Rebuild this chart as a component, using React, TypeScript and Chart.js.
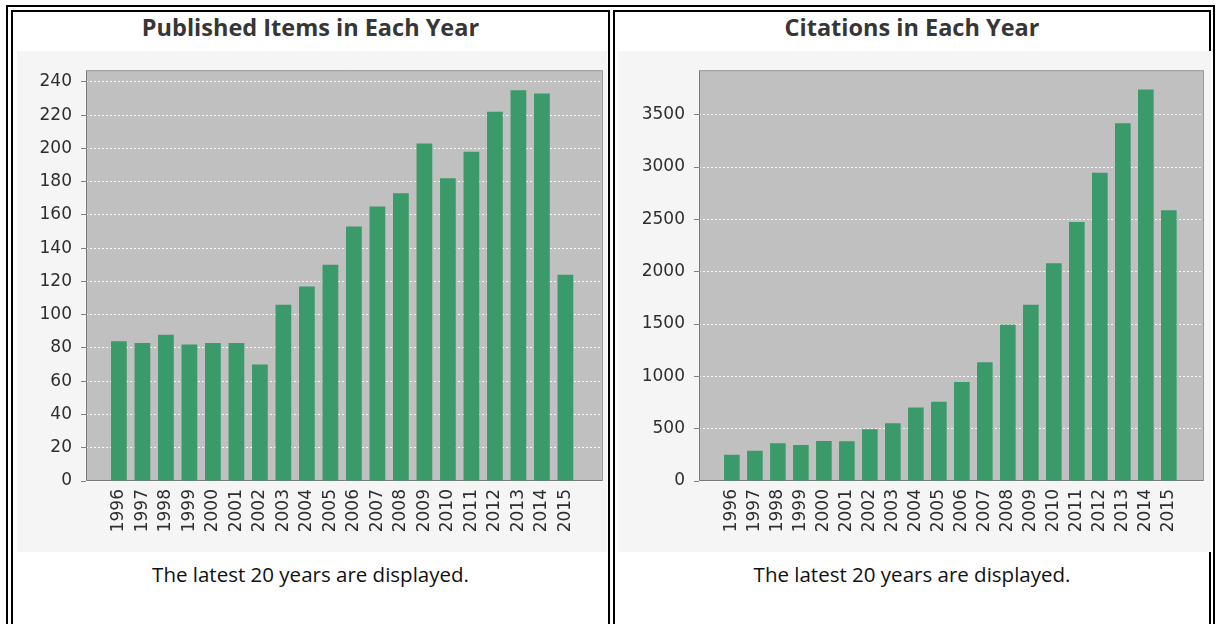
import React, { useEffect, useRef } from "react";
import { Chart, registerables } from "chart.js";

Chart.register(...registerables);

const YEARS = [1996, 1997, 1998, 1999, 2000, 2001, 2002, 2003, 2004, 2005, 2006, 2007, 2008, 2009, 2010, 2011, 2012, 2013, 2014, 2015];
const PUBLISHED = [84, 83, 88, 82, 83, 83, 70, 106, 117, 130, 153, 165, 173, 203, 182, 198, 222, 235, 233, 124];
const CITATIONS = [250, 288, 360, 345, 382, 380, 495, 551, 702, 758, 946, 1134, 1494, 1685, 2080, 2475, 2945, 3418, 3741, 2588];
const PUB_TICKS = [0, 20, 40, 60, 80, 100, 120, 140, 160, 180, 200, 220, 240];
const CIT_TICKS = [0, 500, 1000, 1500, 2000, 2500, 3000, 3500];

const PUB_TITLE = "Published Items in Each Year";
const CIT_TITLE = "Citations in Each Year";
const FOOTER = "The latest 20 years are displayed.";

const BAR_COLOR = "#3a9a6a";
const TICK_FONT = { family: "'DejaVu Sans', sans-serif", size: 17 };

const plotPlugin = {
  id: "plotPlugin",
  beforeDraw(chart: any) {
    const { ctx, chartArea: a } = chart;
    ctx.save();
    ctx.fillStyle = "#f5f5f5";
    ctx.fillRect(0, 0, chart.width, chart.height);
    ctx.fillStyle = "#c0c0c0";
    ctx.fillRect(a.left, a.top, a.right - a.left, a.bottom - a.top);
    ctx.restore();
  },
  beforeDatasetsDraw(chart: any) {
    const { ctx, chartArea: a } = chart;
    ctx.save();
    ctx.lineWidth = 1;
    ctx.strokeStyle = "#9a9a9a";
    ctx.beginPath();
    ctx.moveTo(a.left + 0.5, a.top + 0.5);
    ctx.lineTo(a.right - 0.5, a.top + 0.5);
    ctx.lineTo(a.right - 0.5, a.bottom - 0.5);
    ctx.stroke();
    ctx.strokeStyle = "#7a7a7a";
    ctx.beginPath();
    ctx.moveTo(a.left + 0.5, a.top + 0.5);
    ctx.lineTo(a.left + 0.5, a.bottom - 0.5);
    ctx.lineTo(a.right - 0.5, a.bottom - 0.5);
    ctx.stroke();
    ctx.restore();
  },
};

type Spec = {
  values: number[];
  ticks: number[];
  yMax: number;
  xMin: number;
  xMax: number;
  yAxisWidth: number;
  rightPad: number;
  barPct: number;
};

function BarChart({ spec, width, height }: { spec: Spec; width: number; height: number }) {
  const ref = useRef<HTMLCanvasElement | null>(null);
  useEffect(() => {
    if (!ref.current) return;
    const chart = new Chart(ref.current, {
      type: "bar",
      data: {
        datasets: [
          {
            data: YEARS.map((y, i) => ({ x: y, y: spec.values[i] })),
            backgroundColor: BAR_COLOR,
            borderWidth: 0,
            categoryPercentage: 1,
            barPercentage: spec.barPct,
          } as any,
        ],
      },
      options: {
        animation: false,
        responsive: false,
        devicePixelRatio: 1,
        layout: { padding: { top: 12, right: spec.rightPad, left: 0, bottom: 0 } },
        plugins: { legend: { display: false }, tooltip: { enabled: false }, title: { display: false } },
        scales: {
          x: {
            type: "linear",
            offset: false,
            min: spec.xMin,
            max: spec.xMax,
            grid: { display: false, drawTicks: false },
            border: { display: false },
            afterBuildTicks: (s: any) => {
              s.ticks = YEARS.map((v) => ({ value: v }));
            },
            afterFit: (s: any) => {
              s.height = 71;
            },
            ticks: {
              autoSkip: false,
              minRotation: 90,
              maxRotation: 90,
              padding: 8,
              color: "#2e2e2e",
              font: TICK_FONT,
              callback: (v: any) => String(v),
            },
          },
          y: {
            type: "linear",
            min: 0,
            max: spec.yMax,
            grid: {
              color: "rgba(255,255,255,0.9)",
              lineWidth: 1,
              tickLength: 5,
              tickColor: "#808080",
              tickWidth: 1,
              tickBorderDash: [],
            },
            border: { display: false, dash: [2, 2] },
            afterBuildTicks: (s: any) => {
              s.ticks = spec.ticks.map((v) => ({ value: v }));
            },
            afterFit: (s: any) => {
              s.width = spec.yAxisWidth;
            },
            ticks: {
              padding: 9,
              color: "#2e2e2e",
              font: TICK_FONT,
              callback: (v: any) => String(v),
            },
          },
        },
      } as any,
      plugins: [plotPlugin],
    });
    return () => chart.destroy();
  }, []);
  return <canvas ref={ref} width={width} height={height} style={{ display: "block", width, height }} />;
}

const PUB_SPEC: Spec = {
  values: PUBLISHED,
  ticks: PUB_TICKS,
  yMax: 247,
  xMin: 1996 - 1.4,
  xMax: 1996 + 20.6,
  yAxisWidth: 69,
  rightPad: 4,
  barPct: 0.67,
};

const CIT_SPEC: Spec = {
  values: CITATIONS,
  ticks: CIT_TICKS,
  yMax: 3925,
  xMin: 1996 - 1.43,
  xMax: 1996 + 20.53,
  yAxisWidth: 81,
  rightPad: 7,
  barPct: 0.68,
};

const abs = (l: number, t: number, w: number, h: number): React.CSSProperties => ({
  position: "absolute",
  left: l,
  top: t,
  width: w,
  height: h,
  boxSizing: "border-box",
});

const titleStyle = (l: number, w: number): React.CSSProperties => ({
  ...abs(l, 12, w, 30),
  lineHeight: "30px",
  textAlign: "center",
  fontFamily: "'Open Sans', Lato, sans-serif",
  fontWeight: 700,
  fontSize: 23.5,
  color: "#363636",
  whiteSpace: "nowrap",
});

const footerStyle = (l: number, w: number): React.CSSProperties => ({
  ...abs(l, 559, w, 30),
  lineHeight: "30px",
  textAlign: "center",
  fontFamily: "'Open Sans', Lato, sans-serif",
  fontSize: 20.5,
  color: "#111111",
  whiteSpace: "nowrap",
});

export default function App() {
  return (
    <div style={{ position: "absolute", left: 0, top: 0, width: 1216, height: 624, overflow: "hidden", background: "#fff" }}>
      <div style={{ ...abs(6, 5, 1209, 720), border: "2px solid #000" }} />
      <div style={{ ...abs(11, 10, 599, 720), border: "2px solid #000" }} />
      <div style={{ ...abs(613, 10, 598, 720), border: "2px solid #000" }} />
      <div style={titleStyle(11, 599)}>{PUB_TITLE}</div>
      <div style={titleStyle(613, 598)}>{CIT_TITLE}</div>
      <div style={{ ...abs(17, 51, 590, 501) }}>
        <BarChart spec={PUB_SPEC} width={590} height={501} />
      </div>
      <div style={{ ...abs(618, 51, 593, 501) }}>
        <BarChart spec={CIT_SPEC} width={593} height={501} />
      </div>
      <div style={footerStyle(11, 599)}>{FOOTER}</div>
      <div style={footerStyle(613, 598)}>{FOOTER}</div>
    </div>
  );
}
